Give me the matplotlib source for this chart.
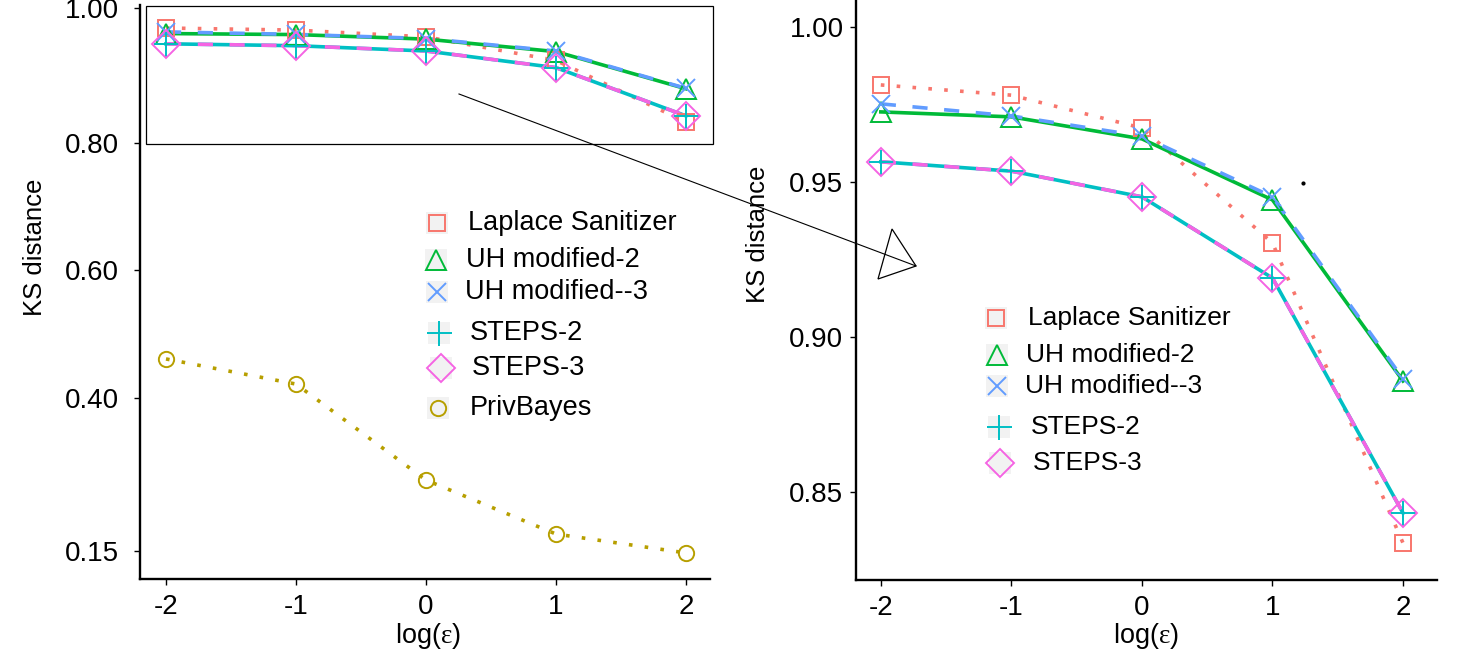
import matplotlib
matplotlib.use("Agg")
import matplotlib.pyplot as plt
from matplotlib.patches import Rectangle, Polygon
from matplotlib.lines import Line2D

plt.rcParams['font.family'] = ['Liberation Sans', 'DejaVu Sans']
plt.rcParams['mathtext.fontset'] = 'custom'
plt.rcParams['mathtext.rm'] = 'Liberation Serif'

# data
log_eps = [-2, -1, 0, 1, 2]
laplace = [0.9813, 0.9780, 0.9674, 0.9303, 0.8335]
uh2 = [0.9726, 0.9710, 0.9639, 0.9442, 0.8858]
uh3 = [0.9752, 0.9713, 0.9648, 0.9452, 0.8865]
steps2 = [0.9565, 0.9535, 0.9452, 0.9190, 0.8432]
steps3 = [0.9565, 0.9535, 0.9452, 0.9190, 0.8432]
privbayes = [0.461, 0.4215, 0.2706, 0.1857, 0.156]

# left axis labels sit where they are in the original (not evenly spaced)
left_yticks = [0.159, 0.40, 0.601, 0.80, 1.012]
left_ylabels = ['0.15', '0.40', '0.60', '0.80', '1.00']
right_yticks = [0.85, 0.90, 0.95, 1.00]
right_ylabels = ['0.85', '0.90', '0.95', '1.00']
xticks = [-2, -1, 0, 1, 2]
xlabels = ['-2', '-1', '0', '1', '2']

W, H = 1464, 662
fig = plt.figure(figsize=(W / 100, H / 100), dpi=100)


def px_rect(x0, y0, x1, y1):
    return [x0 / W, 1 - y1 / H, (x1 - x0) / W, (y1 - y0) / H]


def fx(x):
    return x / W


def fy(y):
    return 1 - y / H


col = {'lap': '#F8766D', 'uh2': '#00BA38', 'uh3': '#619CFF',
       's2': '#00BFC4', 's3': '#F564E3', 'pb': '#B79F00'}

LW = 2.6
dotted = (0, (1, 3.4))
dashed = (0, (4.2, 4.6))

styles = [
    (laplace, col['lap'], dotted, 's', 12),
    (uh2, col['uh2'], '-', '^', 14),
    (uh3, col['uh3'], dashed, 'x', 13),
    (steps2, col['s2'], '-', '+', 18),
    (steps3, col['s3'], dashed, 'D', 14),
]


def draw_series(ax):
    for ys, c, ls, m, ms in styles:
        ax.plot(log_eps, ys, color=c, linestyle=ls, lw=LW, zorder=2)
    for ys, c, ls, m, ms in styles:
        ax.plot(log_eps, ys, linestyle='none', marker=m, ms=ms, mfc='none',
                mec=c, mew=1.4, zorder=3)


def style_axes(ax, ypad):
    for s in ['top', 'right']:
        ax.spines[s].set_visible(False)
    for s in ['left', 'bottom']:
        ax.spines[s].set_linewidth(1.7)
    ax.tick_params(length=4, width=1, labelsize=20)
    ax.tick_params(axis='y', pad=ypad)
    ax.tick_params(axis='x', pad=7)
    ax.set_xticks(xticks)
    ax.set_xticklabels(xlabels)


def legend(entries, xs, ys_, size):
    for (lab, c, m, ms), (mx, tx), y in zip(entries, xs, ys_):
        fig.patches.append(Rectangle((fx(mx - 11), fy(y + 11)), 22 / W, 22 / H,
                                     transform=fig.transFigure, fc='#F2F2F2',
                                     ec='none', zorder=1))
        fig.add_artist(Line2D([fx(mx)], [fy(y)], marker=m, ms=ms, mfc='none',
                              mec=c, mew=1.4, linestyle='none',
                              transform=fig.transFigure))
        fig.text(fx(tx), fy(y), lab, fontsize=size, va='center', ha='left')


# left panel
ax1 = fig.add_axes(px_rect(140, 5, 710, 579))
draw_series(ax1)
ax1.plot(log_eps, privbayes, color=col['pb'], linestyle=dotted, lw=LW)
ax1.plot(log_eps, privbayes, linestyle='none', marker='o', ms=11, mfc='none',
         mec=col['pb'], mew=1.4)
ax1.set_xlim(-2.2, 2.185)
ax1.set_ylim(0.115, 1.0175)
ax1.set_yticks(left_yticks)
ax1.set_yticklabels(left_ylabels)
style_axes(ax1, 11)
ax1.add_patch(Rectangle((-2.156, 0.7984), 4.364, 0.2175, fill=False, ec='black',
                        lw=0.9, clip_on=False, zorder=4))

# right panel
ax2 = fig.add_axes(px_rect(856, 0, 1437, 580))
draw_series(ax2)
ax2.set_xlim(-2.19, 2.26)
ax2.set_ylim(0.8216, 1.0087)
ax2.set_yticks(right_yticks)
ax2.set_yticklabels(right_ylabels)
style_axes(ax2, 5)

for xc in [428, 1146]:
    fig.text(fx(xc), fy(636), r'log($\mathrm{\varepsilon}$)', fontsize=19.5,
             ha='center', va='center')
fig.text(fx(35), fy(247), 'KS distance', fontsize=18.5, rotation=90,
         ha='center', va='center')
fig.text(fx(758), fy(234), 'KS distance', fontsize=18.5, rotation=90,
         ha='center', va='center')

# zoom arrow from the boxed region to the right panel
fig.add_artist(Line2D([fx(459), fx(916)], [fy(94), fy(266)], color='black',
                      lw=0.8, transform=fig.transFigure))
fig.add_artist(Polygon([(fx(916), fy(266)), (fx(892), fy(229)), (fx(878), fy(279))],
                       closed=True, fill=False, ec='black', lw=0.9,
                       transform=fig.transFigure))
fig.add_artist(Line2D([fx(1303)], [fy(183)], marker='o', ms=2, color='black',
                      linestyle='none', transform=fig.transFigure))

left_entries = [('Laplace Sanitizer', col['lap'], 's', 12),
                ('UH modified-2', col['uh2'], '^', 14),
                ('UH modified--3', col['uh3'], 'x', 13),
                ('STEPS-2', col['s2'], '+', 18),
                ('STEPS-3', col['s3'], 'D', 14),
                ('PrivBayes', col['pb'], 'o', 11)]
legend(left_entries,
       [(437, 468), (436, 466), (437, 465), (439, 470), (441, 472), (438, 470)],
       [223, 260, 292, 333, 368, 408], 19.5)
legend(left_entries[:5],
       [(996, 1028), (997, 1026), (997, 1025), (999, 1031), (1000, 1033)],
       [318, 355, 386, 427, 463], 19)

fig.savefig('out.png', dpi=100)
